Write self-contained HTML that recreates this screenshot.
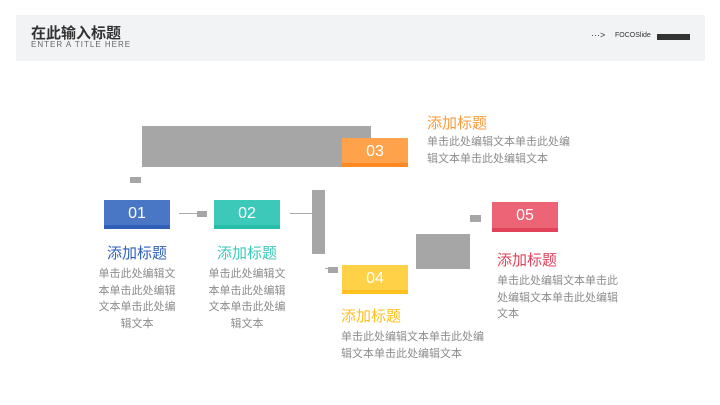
<!DOCTYPE html>
<html><head><meta charset="utf-8"><style>
body{margin:0;width:720px;height:405px;background:#fff;position:relative;overflow:hidden;font-family:"Liberation Sans","Noto Sans CJK SC",sans-serif}
.a{position:absolute}
.g{position:absolute;background:#a6a6a6}
.box{position:absolute;width:66px;height:29px;color:#fff;font-size:16px;text-align:center;line-height:27px;box-sizing:border-box}
.t{position:absolute;font-size:15px;white-space:nowrap}
.b{position:absolute;font-size:11px;color:#8c8c8c;line-height:16.7px}
</style></head><body>
<div class="a" style="left:16px;top:15px;width:689px;height:46px;background:#f2f3f5"></div>
<div class="a" style="left:31px;top:22px;font-size:15px;font-weight:bold;color:#333">在此输入标题</div>
<div class="a" style="left:31px;top:40px;font-size:8px;color:#666;letter-spacing:1px">ENTER A TITLE HERE</div>
<div class="a" style="left:591px;top:30px;font-size:9px;color:#333">···&gt;</div>
<div class="a" style="left:615px;top:32px;font-size:7px;color:#333">FOCOSlide</div>
<div class="a" style="left:657px;top:34px;width:33px;height:6px;background:#333"></div>

<div class="g" style="left:142px;top:126px;width:229px;height:41px"></div>
<div class="g" style="left:130px;top:177px;width:11px;height:6px"></div>
<div class="a" style="left:179px;top:213px;width:18px;height:1px;background:#aaa"></div>
<div class="g" style="left:197px;top:211px;width:10px;height:6px"></div>
<div class="a" style="left:290px;top:213px;width:22px;height:1px;background:#aaa"></div>
<div class="g" style="left:312px;top:190px;width:13px;height:64px"></div>
<div class="a" style="left:325px;top:268px;width:3px;height:1px;background:#aaa"></div>
<div class="g" style="left:328px;top:267px;width:10px;height:6px"></div>
<div class="g" style="left:416px;top:234px;width:54px;height:35px"></div>
<div class="g" style="left:470px;top:215px;width:11px;height:7px"></div>

<div class="box" style="left:104px;top:200px;background:#4a76c6;border-bottom:4px solid #2f5fb8">01</div>
<div class="box" style="left:214px;top:200px;background:#3cc9b9;border-bottom:4px solid #27bda9">02</div>
<div class="box" style="left:342px;top:138px;background:#ffa24c;border-bottom:4px solid #ff8a22">03</div>
<div class="box" style="left:342px;top:265px;background:#ffd147;border-bottom:4px solid #ffc020">04</div>
<div class="box" style="left:492px;top:202px;height:30px;background:#ec6476;border-bottom:4px solid #e0425a">05</div>

<div class="t" style="left:107px;top:242px;color:#2f5fb8">添加标题</div>
<div class="b" style="left:97px;top:266px;width:80px;text-align:center">单击此处编辑文本单击此处编辑文本单击此处编辑文本</div>
<div class="t" style="left:217px;top:242px;color:#3cc9b9">添加标题</div>
<div class="b" style="left:207px;top:266px;width:80px;text-align:center">单击此处编辑文本单击此处编辑文本单击此处编辑文本</div>
<div class="t" style="left:427px;top:112px;color:#ff9a3c">添加标题</div>
<div class="b" style="left:427px;top:134px;width:150px">单击此处编辑文本单击此处编辑文本单击此处编辑文本</div>
<div class="t" style="left:341px;top:305px;color:#ffc020">添加标题</div>
<div class="b" style="left:341px;top:329px;width:150px">单击此处编辑文本单击此处编辑文本单击此处编辑文本</div>
<div class="t" style="left:497px;top:249px;color:#e0425a">添加标题</div>
<div class="b" style="left:497px;top:273px;width:125px">单击此处编辑文本单击此处编辑文本单击此处编辑文本</div>
</body></html>
